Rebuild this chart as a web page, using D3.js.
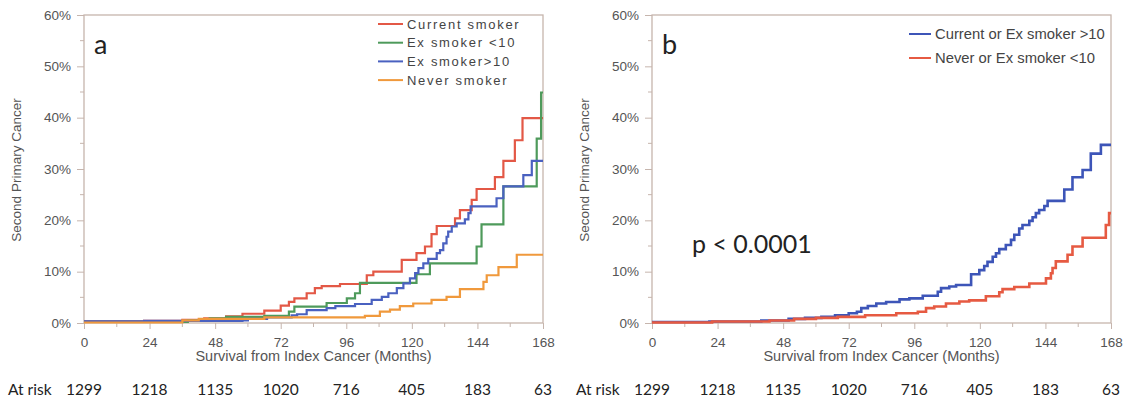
<!DOCTYPE html>
<html>
<head>
<meta charset="utf-8">
<script src="https://cdn.jsdelivr.net/npm/d3@7"></script>
<style>
body { margin: 0; background: #fff; }
text { font-family: "Liberation Sans", Arial, sans-serif; }
.big { font-family: Lato, "Open Sans", sans-serif; }
</style>
</head>
<body>
<script>
// months, cumulative incidence (%) - step points
var currentSmoker = [[0,0.3],[22,0.4],[36,0.6],[44,0.9],[52,1.3],[58,1.8],[66,2.4],[72,3.4],[75,4.1],[77,4.8],[81.5,5.8],[84.5,6.8],[87,7.2],[93.7,7.6],[103.5,9.3],[105.9,10.0],[116.3,12.3],[121.7,13.6],[124.8,14.9],[127.2,17.3],[129.1,18.9],[135.8,20.4],[137.6,22.0],[141.9,24.0],[143.7,26.1],[150.4,28.4],[153.5,31.6],[157.7,35.6],[160.5,39.9],[168,39.9]];
var exSmokerLt10 = [[0,0.2],[38,0.5],[46,0.9],[52,1.2],[66,1.4],[75,2.2],[77,3.2],[88.8,3.9],[96.2,4.8],[99.2,5.8],[101,7.8],[121.7,9.5],[126.6,11.6],[143.7,14.9],[145.5,19.2],[153.5,26.6],[165.7,35.9],[167.3,44.9],[168,44.9]];
var exSmokerGt10 = [[0,0.3],[22,0.4],[58,0.5],[60,0.8],[67,1.1],[76,1.5],[78,1.7],[81.5,2.5],[88.8,2.9],[92,3.3],[99.2,3.7],[105.3,4.5],[109,5.1],[111.4,5.8],[114.5,6.8],[116.9,7.7],[119.3,8.7],[121.2,9.7],[122.4,10.7],[124.2,11.6],[126,12.5],[129.1,13.6],[130.3,14.2],[131.5,15.5],[132.7,16.8],[133.3,17.8],[134.6,18.8],[136.4,19.4],[139.4,20.2],[140.7,21.4],[141.5,22.7],[151,24.3],[153.5,26.6],[160.8,28.8],[163.9,31.6],[168,31.6]];
var neverSmoker = [[0,0.1],[36,0.5],[42,0.8],[66,1.1],[102.8,1.4],[108.3,2.2],[112,2.6],[115.6,3.3],[120.5,3.8],[127.2,4.5],[132.7,5.1],[137.6,6.6],[146.2,8.0],[147.4,9.3],[151.7,10.9],[158.4,13.3],[168,13.3]];

var currentOrExGt10 = [[0,0.2],[21,0.3],[40,0.5],[50,0.8],[56,1.0],[62,1.2],[67,1.5],[72,1.9],[75,2.2],[76.6,2.9],[79,3.3],[82.1,3.8],[85.7,4.1],[90.6,4.6],[94.2,4.8],[99.1,5.3],[104.6,6.1],[105.8,6.8],[108.8,7.1],[111.3,7.4],[116.8,9.5],[119.8,10.3],[121.6,11.1],[122.8,11.9],[124.7,12.9],[125.9,13.6],[127.1,14.4],[129.5,15.2],[131.4,16.2],[132.6,17.2],[134.4,18.4],[135.6,19.1],[138.1,19.9],[139.3,20.6],[140.5,21.4],[141.7,22.0],[143.6,22.8],[144.8,23.8],[150.9,26.0],[153.9,28.4],[157.6,29.8],[160.6,33.0],[164.3,34.7],[168,34.7]];
var neverOrExLt10 = [[0,0.1],[22,0.3],[43,0.5],[52,0.8],[60,1.0],[68,1.2],[78,1.5],[89.4,1.9],[97.3,2.2],[100.3,2.9],[103.3,3.2],[107.6,3.8],[112.5,4.2],[116.1,4.4],[122.2,5.2],[127.1,6.0],[128.3,6.6],[132.6,7.0],[138.1,7.7],[144.2,8.7],[146,9.7],[146.6,10.7],[147.8,12.0],[152.1,13.3],[153.9,14.9],[157.6,16.6],[166.1,19.1],[167.3,21.4],[168,21.4]];

var xTicks = [0,24,48,72,96,120,144,168];
var yTicks = [0,10,20,30,40,50,60];
var atRisk = [1299,1218,1135,1020,716,405,183,63];

var namesA = ["Current smoker","Ex smoker <10","Ex smoker>10","Never smoker"];
var namesB = ["Current or Ex smoker >10","Never or Ex smoker <10"];

var width = 1126, height = 400;
var frameColor = "#c6b5ad";
var labelColor = "#555";

var svg = d3.select("body").append("svg").attr("width",width).attr("height",height);

function drawPanel(left, letter, series, colors, names, lineW, legend) {
	var x = d3.scaleLinear().domain([0,168]).range([left, left+459]);
	var y = d3.scaleLinear().domain([0,60]).range([323,15]);
	var g = svg.append("g");

	// minor ticks
	g.selectAll(".mx").data(d3.range(12,168,24)).enter().append("line")
		.attr("x1",function(d){ return x(d); }).attr("x2",function(d){ return x(d); })
		.attr("y1",323).attr("y2",327).attr("stroke",frameColor);
	g.selectAll(".my").data(d3.range(5,60,10)).enter().append("line")
		.attr("y1",function(d){ return y(d); }).attr("y2",function(d){ return y(d); })
		.attr("x1",x(0)-4).attr("x2",x(0)).attr("stroke",frameColor);

	var xAxis = g.append("g").attr("transform","translate(0,323)")
		.call(d3.axisBottom(x).tickValues(xTicks).tickSize(6).tickPadding(8));
	var yAxis = g.append("g").attr("transform","translate("+x(0)+",0)")
		.call(d3.axisLeft(y).tickValues(yTicks).tickSize(7).tickPadding(6).tickFormat(function(d){ return d+"%"; }));
	[xAxis,yAxis].forEach(function(a){
		a.select(".domain").remove();
		a.selectAll("line").attr("stroke",frameColor);
		a.selectAll("text").attr("fill",labelColor).style("font-size","13.5px").style("font-family","Liberation Sans, Arial, sans-serif");
	});

	g.append("rect").attr("x",x(0)).attr("y",y(60)).attr("width",459).attr("height",308)
		.attr("fill","none").attr("stroke",frameColor).attr("stroke-width",1.3);

	var line = d3.line().curve(d3.curveStepAfter)
		.x(function(d){ return x(d[0]); }).y(function(d){ return y(d[1]); });
	g.selectAll(".curve").data(series).enter().append("path")
		.attr("d",line).attr("fill","none")
		.attr("stroke",function(d,i){ return colors[i]; })
		.attr("stroke-width",lineW);

	g.append("text").attr("class","big").attr("x",x(0)+10).attr("y",54)
		.attr("fill","#222").style("font-size","27px").text(letter);

	g.append("text").attr("x",(x(0)+x(168))/2).attr("y",361).attr("text-anchor","middle")
		.attr("fill",labelColor).style("font-size","14.5px").text("Survival from Index Cancer (Months)");
	g.append("text").attr("transform","translate("+(left-63)+",170) rotate(-90)").attr("text-anchor","middle")
		.attr("fill",labelColor).style("font-size","13.5px").text("Second Primary Cancer");

	// legend
	var lg = g.selectAll(".lg").data(names).enter().append("g")
		.attr("transform",function(d,i){ return "translate("+legend.x+","+(legend.y+i*legend.gap)+")"; });
	lg.append("line").attr("x1",0).attr("x2",legend.len).attr("y1",0).attr("y2",0)
		.attr("stroke",function(d,i){ return colors[i]; }).attr("stroke-width",2);
	lg.append("text").attr("x",legend.len+4).attr("y",legend.fs*0.36).attr("fill","#444")
		.style("font-size",legend.fs+"px").style("letter-spacing",legend.ls+"px")
		.text(function(d){ return d; });

	// at risk row
	g.append("text").attr("class","big").attr("x",left-76).attr("y",395).attr("fill","#222")
		.style("font-size","15.5px").text("At risk");
	g.selectAll(".ar").data(atRisk).enter().append("text").attr("class","big")
		.attr("x",function(d,i){ return x(xTicks[i]); }).attr("y",395).attr("text-anchor","middle")
		.attr("fill","#222").style("font-size","15.5px").text(function(d){ return d; });
	return {x:x, y:y, g:g};
}

drawPanel(84, "a", [currentSmoker,exSmokerLt10,exSmokerGt10,neverSmoker],
	["#e35846","#4e9a5b","#4a61c0","#f0993c"], namesA, 2.2,
	{x:378, y:24, gap:18.7, len:25, fs:13, ls:1.7});

var pb = drawPanel(652, "b", [currentOrExGt10,neverOrExLt10],
	["#3d55b8","#e65a42"], namesB, 2.6,
	{x:909, y:34, gap:24, len:22, fs:14.8, ls:0});

pb.g.append("text").attr("class","big").attr("x",692).attr("y",253).attr("fill","#222")
	.style("font-size","25px").text("p < 0.0001");
</script>
</body>
</html>
